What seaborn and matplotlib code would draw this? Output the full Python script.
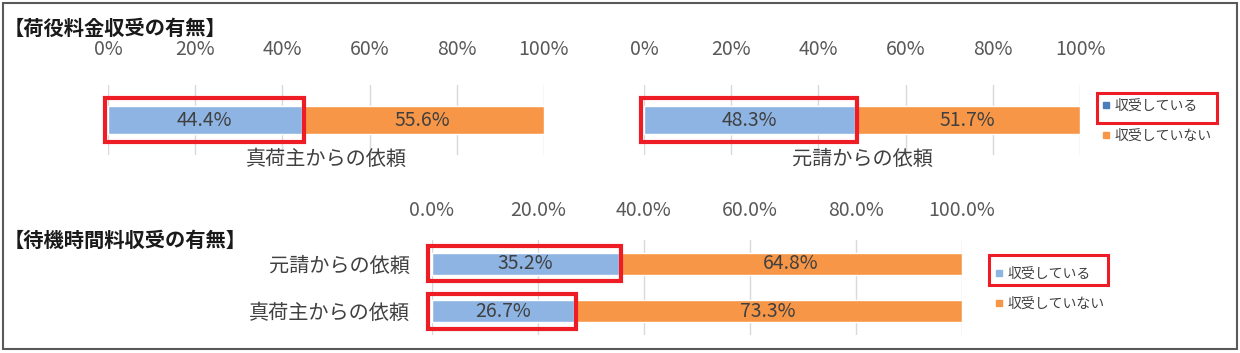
import matplotlib
matplotlib.use("Agg")
import matplotlib.pyplot as plt
import matplotlib.ticker as mtick
from matplotlib.patches import Rectangle
from matplotlib.lines import Line2D
import seaborn as sns

sns.set_style("white")
plt.rcParams["font.family"] = ["Noto Sans CJK JP", "DejaVu Sans"]

# ---- data -----------------------------------------------------------------
TITLE_HANDLING = "【荷役料金収受の有無】"
TITLE_WAITING  = "【待機時間料収受の有無】"
SERIES = ["収受している", "収受していない"]

handling_cats = ["真荷主からの依頼", "元請からの依頼"]
handling_yes  = [44.4, 48.3]
handling_no   = [55.6, 51.7]

waiting_cats = ["元請からの依頼", "真荷主からの依頼"]
waiting_yes  = [35.2, 26.7]
waiting_no   = [64.8, 73.3]

pct_ticks = [0, 20, 40, 60, 80, 100]

# ---- style ----------------------------------------------------------------
BLUE   = "#8EB4E3"
BLUE_D = "#4A7EBB"
ORANGE = "#F79646"
RED    = "#EE1C24"
GRID   = "#D9D9D9"
TXT    = "#404040"
TICK   = "#595959"

W, H = 1240, 353


def fx(px):
    return px / W


def fy(py):
    return 1 - py / H


def stacked(ax, cats, yes, no, width, pad_y, fmt, tick_pad):
    total = [a + b for a, b in zip(yes, no)]
    sns.barplot(x=total, y=cats, orient="h", color=ORANGE, width=width,
                saturation=1, ax=ax)
    sns.barplot(x=yes, y=cats, orient="h", color=BLUE, width=width,
                saturation=1, ax=ax)
    for i, (a, b) in enumerate(zip(yes, no)):
        ax.text(a / 2, i, f"{a:.1f}%", ha="center", va="center",
                fontsize=14, color=TXT)
        ax.text(a + b / 2, i, f"{b:.1f}%", ha="center", va="center",
                fontsize=14, color=TXT)
        ax.add_patch(Rectangle((-0.7, i - width / 2 - pad_y), a + 1.2,
                               width + 2 * pad_y, fill=False, ec=RED, lw=3,
                               clip_on=False, zorder=5))
    ax.set_xlim(0, 100)
    ax.xaxis.tick_top()
    ax.set_xticks(pct_ticks)
    ax.xaxis.set_major_formatter(fmt)
    ax.grid(axis="x", color=GRID, lw=1)
    ax.grid(axis="y", visible=False)
    ax.set_axisbelow(True)
    sns.despine(ax=ax, left=True, bottom=True, top=True, right=True)
    ax.tick_params(axis="x", length=0, pad=tick_pad, labelsize=14,
                   labelcolor=TICK)
    ax.set_xlabel("")
    ax.set_ylabel("")


fig = plt.figure(figsize=(W / 100, H / 100), dpi=100)
fig.patch.set_facecolor("white")

fmt0 = mtick.FuncFormatter(lambda v, _: f"{v:.0f}%")
fmt1 = mtick.FuncFormatter(lambda v, _: f"{v:.1f}%")

# ---- top: handling fee, one panel per requester -----------------------------
top_lefts = [108, 644]
for k, left in enumerate(top_lefts):
    ax = fig.add_axes([fx(left), fy(155), 436 / W, 70 / H])
    stacked(ax, [handling_cats[k]], [handling_yes[k]], [handling_no[k]],
            width=0.39, pad_y=0.115, fmt=fmt0, tick_pad=18)
    ax.set_ylim(0.5, -0.5)
    ax.set_yticks([])
    ax.text(0.5, -0.07, handling_cats[k], transform=ax.transAxes,
            ha="center", va="center", fontsize=14.5, color=TXT)

# ---- bottom: waiting time fee ----------------------------------------------
ax3 = fig.add_axes([fx(432), fy(335), 530 / W, 95 / H])
stacked(ax3, waiting_cats, waiting_yes, waiting_no,
        width=0.47, pad_y=0.13, fmt=fmt1, tick_pad=14)
ax3.set_ylim(1.5, -0.5)
ax3.tick_params(axis="y", length=0, pad=16, labelsize=14.5, labelcolor=TXT)

# ---- titles -----------------------------------------------------------------
fig.text(fx(4), fy(28), TITLE_HANDLING, fontsize=14.6, fontweight="bold",
         va="center", ha="left", color="#1a1a1a")
fig.text(fx(4), fy(240), TITLE_WAITING, fontsize=14.6, fontweight="bold",
         va="center", ha="left", color="#1a1a1a")


# ---- legends ----------------------------------------------------------------
def legend(blue, x, y):
    handles = [Line2D([], [], marker="s", ls="", color=c, markersize=5)
               for c in (blue, ORANGE)]
    fig.legend(handles, SERIES, loc="upper left",
               bbox_to_anchor=(fx(x), fy(y)), frameon=False, fontsize=10,
               handlelength=0.6, handletextpad=0.3, labelspacing=1.17,
               borderpad=0, borderaxespad=0, labelcolor=TXT)


legend(BLUE_D, 1102, 99)
legend(BLUE, 995, 267)

for (x0, y0, x1, y1) in [(1097, 93, 1217, 123), (989, 255, 1108, 285)]:
    fig.patches.append(Rectangle((fx(x0), fy(y1)), (x1 - x0) / W,
                                 (y1 - y0) / H, fill=False, ec=RED, lw=2.2,
                                 transform=fig.transFigure, figure=fig))

# outer frame
fig.patches.append(Rectangle((fx(3), fy(349)), 1234 / W, 346 / H, fill=False,
                             ec="#595959", lw=1.5, transform=fig.transFigure,
                             figure=fig))

fig.savefig("out.png", dpi=100)
